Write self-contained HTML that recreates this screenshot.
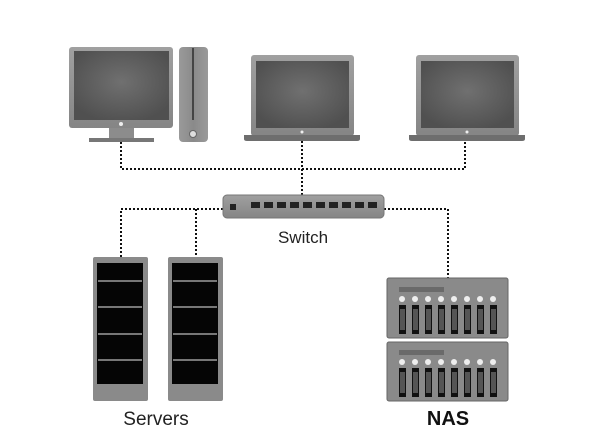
<!DOCTYPE html>
<html><head><style>
html,body{margin:0;padding:0;background:#fff;width:600px;height:440px;overflow:hidden}
</style></head><body>
<svg width="600" height="440" viewBox="0 0 600 440" xmlns="http://www.w3.org/2000/svg">
<defs>
<radialGradient id="scr" cx="50%" cy="45%" r="60%"><stop offset="0" stop-color="#707070"/><stop offset="1" stop-color="#505050"/></radialGradient>
<linearGradient id="frm" x1="0" y1="0" x2="0" y2="1"><stop offset="0" stop-color="#a0a0a0"/><stop offset="1" stop-color="#858585"/></linearGradient>
<linearGradient id="tw" x1="0" y1="0" x2="1" y2="0"><stop offset="0" stop-color="#9a9a9a"/><stop offset="0.5" stop-color="#8a8a8a"/><stop offset="1" stop-color="#9a9a9a"/></linearGradient>
</defs>
<g fill="none" stroke="#111" stroke-width="2" stroke-dasharray="2 2">
<polyline points="121,142 121,169 465,169 465,141"/>
<line x1="302" y1="141" x2="302" y2="196"/>
<polyline points="223,209 121,209 121,257"/>
<line x1="196" y1="209" x2="196" y2="257"/>
<polyline points="384,209 448,209 448,279"/>
</g>
<!-- monitor -->
<rect x="69" y="47" width="104" height="81" rx="3" fill="url(#frm)"/>
<rect x="74" y="51" width="95" height="69" fill="url(#scr)"/>
<circle cx="121" cy="124" r="2" fill="#eee"/>
<rect x="109" y="128" width="25" height="10" fill="#8c8c8c"/>
<rect x="89" y="138" width="65" height="4" fill="#777"/>
<!-- tower -->
<rect x="179" y="47" width="29" height="95" rx="4" fill="url(#tw)"/>
<rect x="192" y="48" width="2" height="72" fill="#444"/>
<circle cx="193" cy="134" r="3.5" fill="#ddd" stroke="#666" stroke-width="1"/>
<!-- laptop 1 -->
<rect x="251" y="55" width="103" height="81" rx="3" fill="url(#frm)"/>
<rect x="256" y="61" width="93" height="67" fill="url(#scr)"/>
<circle cx="302" cy="132" r="1.5" fill="#eee"/>
<path d="M244 135 H360 V139 Q360 141 357 141 H247 Q244 141 244 139Z" fill="#6e6e6e"/>
<!-- laptop 2 -->
<rect x="416" y="55" width="103" height="81" rx="3" fill="url(#frm)"/>
<rect x="421" y="61" width="93" height="67" fill="url(#scr)"/>
<circle cx="467" cy="132" r="1.5" fill="#eee"/>
<path d="M409 135 H525 V139 Q525 141 522 141 H412 Q409 141 409 139Z" fill="#6e6e6e"/>
<!-- switch -->
<rect x="223" y="195" width="161" height="23" rx="4" fill="url(#frm)" stroke="#777"/>
<rect x="230" y="204" width="6" height="6" fill="#222"/>
<g fill="#222">
<rect x="251" y="202" width="9" height="6"/><rect x="264" y="202" width="9" height="6"/><rect x="277" y="202" width="9" height="6"/><rect x="290" y="202" width="9" height="6"/><rect x="303" y="202" width="9" height="6"/><rect x="316" y="202" width="9" height="6"/><rect x="329" y="202" width="9" height="6"/><rect x="342" y="202" width="9" height="6"/><rect x="355" y="202" width="9" height="6"/><rect x="368" y="202" width="9" height="6"/>
</g>
<text x="303" y="243" text-anchor="middle" font-family="Liberation Sans, sans-serif" font-size="17" fill="#222">Switch</text>
<!-- servers -->
<g>
<rect x="93" y="257" width="55" height="144" rx="2" fill="#8a8a8a"/>
<rect x="97" y="263" width="46" height="121" fill="#050505"/>
<rect x="168" y="257" width="55" height="144" rx="2" fill="#8a8a8a"/>
<rect x="172" y="263" width="46" height="121" fill="#050505"/>
<g fill="#777">
<rect x="98" y="280" width="44" height="2"/><rect x="98" y="306" width="44" height="2"/><rect x="98" y="333" width="44" height="2"/><rect x="98" y="359" width="44" height="2"/>
<rect x="173" y="280" width="44" height="2"/><rect x="173" y="306" width="44" height="2"/><rect x="173" y="333" width="44" height="2"/><rect x="173" y="359" width="44" height="2"/>
</g>
</g>
<text x="156" y="425" text-anchor="middle" font-family="Liberation Sans, sans-serif" font-size="19" fill="#222">Servers</text>
<!-- NAS -->
<g id="nas">
<rect x="387" y="278" width="121" height="60" rx="2" fill="#8a8a8a" stroke="#666"/>
<rect x="399" y="287" width="45" height="5" fill="#6a6a6a"/>
</g>
<rect x="387" y="342" width="121" height="59" rx="2" fill="#8a8a8a" stroke="#666"/>
<rect x="399" y="350" width="45" height="5" fill="#6a6a6a"/>
<g id="drives">
<g fill="#eee"><circle cx="402" cy="299" r="3"/><circle cx="415" cy="299" r="3"/><circle cx="428" cy="299" r="3"/><circle cx="441" cy="299" r="3"/><circle cx="454" cy="299" r="3"/><circle cx="467" cy="299" r="3"/><circle cx="480" cy="299" r="3"/><circle cx="493" cy="299" r="3"/></g>
<g fill="#111"><rect x="399" y="305" width="7" height="29"/><rect x="412" y="305" width="7" height="29"/><rect x="425" y="305" width="7" height="29"/><rect x="438" y="305" width="7" height="29"/><rect x="451" y="305" width="7" height="29"/><rect x="464" y="305" width="7" height="29"/><rect x="477" y="305" width="7" height="29"/><rect x="490" y="305" width="7" height="29"/></g>
<g fill="#555"><rect x="400" y="309" width="5" height="21"/><rect x="413" y="309" width="5" height="21"/><rect x="426" y="309" width="5" height="21"/><rect x="439" y="309" width="5" height="21"/><rect x="452" y="309" width="5" height="21"/><rect x="465" y="309" width="5" height="21"/><rect x="478" y="309" width="5" height="21"/><rect x="491" y="309" width="5" height="21"/></g>
</g>
<use href="#drives" transform="translate(0,63)"/>
<text x="448" y="425" text-anchor="middle" font-family="Liberation Sans, sans-serif" font-size="20" font-weight="bold" fill="#111">NAS</text>
</svg>
</body></html>
